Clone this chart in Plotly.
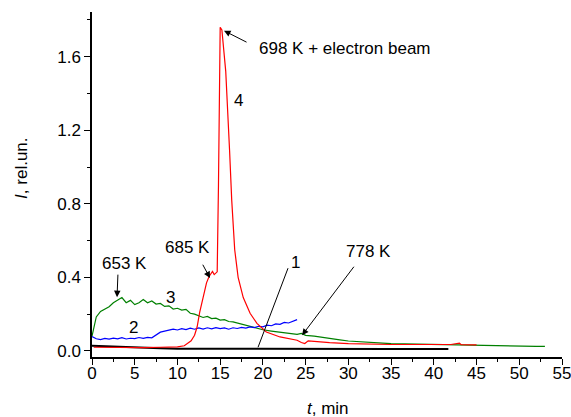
import plotly.graph_objects as go

# ---- data ----
t1 = [0, 2, 5, 8, 10, 15, 20, 25, 30, 35, 41.7]
i1 = [0.028, 0.024, 0.018, 0.014, 0.012, 0.011, 0.010, 0.010, 0.010, 0.010, 0.010]

t2 = [0, 0.5, 1, 1.5, 2, 2.5, 3, 3.5, 4, 4.5, 5, 5.5, 6, 6.5, 7, 7.5, 8, 8.5, 9, 9.5,
      10, 10.5, 11, 11.5, 12, 12.5, 13, 13.5, 14, 14.5, 15, 15.5, 16, 16.5, 17, 17.5,
      18, 18.5, 19, 19.5, 20, 20.5, 21, 21.5, 22, 22.5, 23, 23.5, 24]
i2 = [0.078, 0.066, 0.062, 0.068, 0.064, 0.070, 0.066, 0.072, 0.065, 0.069, 0.067, 0.073,
      0.068, 0.074, 0.071, 0.088, 0.102, 0.108, 0.112, 0.118, 0.114, 0.121, 0.116, 0.124,
      0.118, 0.125, 0.119, 0.126, 0.120, 0.127, 0.121, 0.125, 0.118, 0.126, 0.122, 0.128,
      0.124, 0.131, 0.127, 0.134, 0.131, 0.140, 0.137, 0.147, 0.145, 0.155, 0.152, 0.163, 0.170]

t3 = [0, 0.25, 0.5, 1, 1.5, 2, 2.5, 3, 3.5, 4, 4.5, 5, 5.5, 6, 6.5, 7, 7.5, 8, 8.5, 9,
      9.5, 10, 10.5, 11, 11.5, 12, 12.5, 13, 13.5, 14, 14.5, 15, 15.5, 16, 16.5, 17, 17.5,
      18, 18.5, 19, 19.5, 20, 21, 22, 23, 24, 24.5, 25, 26, 27, 28, 29, 30, 31, 32, 33, 34,
      35, 36, 37, 38, 39, 40, 41, 42, 43, 44, 45, 46, 47, 48, 49, 50, 51, 52, 53]
i3 = [0.080, 0.140, 0.185, 0.215, 0.228, 0.240, 0.262, 0.275, 0.290, 0.262, 0.275, 0.252,
      0.262, 0.280, 0.262, 0.272, 0.255, 0.258, 0.242, 0.245, 0.228, 0.232, 0.222, 0.226,
      0.205, 0.200, 0.190, 0.182, 0.188, 0.176, 0.178, 0.168, 0.170, 0.160, 0.158, 0.152,
      0.148, 0.140, 0.135, 0.128, 0.122, 0.115, 0.108, 0.102, 0.095, 0.090, 0.095, 0.085,
      0.080, 0.072, 0.066, 0.060, 0.054, 0.050, 0.047, 0.044, 0.042, 0.040, 0.039, 0.037,
      0.036, 0.034, 0.033, 0.032, 0.031, 0.030, 0.030, 0.029, 0.028, 0.028, 0.027, 0.027,
      0.026, 0.026, 0.025, 0.025]

t4 = [0.2, 2, 4, 6, 8, 10, 10.8, 11.2, 11.6, 12.0, 12.3, 12.6, 13.0, 13.4, 13.7, 13.9,
      14.1, 14.3, 14.5, 14.65, 14.8, 14.9, 15.0, 15.2, 15.55, 15.65, 16.1, 16.35, 16.7,
      17.1, 17.7, 18.5, 19.3, 20.4, 22, 24, 24.5, 24.9, 25.3, 26, 27.8, 30, 32, 35, 38,
      40, 42, 43, 43.2, 45]
i4 = [0.020, 0.019, 0.020, 0.018, 0.020, 0.022, 0.028, 0.040, 0.055, 0.085, 0.130, 0.210,
      0.290, 0.370, 0.405, 0.420, 0.432, 0.415, 0.425, 0.430, 0.900, 1.600, 1.760, 1.745,
      1.545, 1.520, 1.090, 0.820, 0.550, 0.400, 0.290, 0.205, 0.150, 0.103, 0.076, 0.058,
      0.046, 0.040, 0.055, 0.052, 0.045, 0.040, 0.037, 0.035, 0.035, 0.036, 0.035, 0.042,
      0.034, 0.033]

FONT = "Liberation Sans, Arial, sans-serif"
FS = 17

fig = go.Figure()
fig.add_trace(go.Scatter(x=t1, y=i1, mode="lines", line=dict(color="black", width=2)))
fig.add_trace(go.Scatter(x=t3, y=i3, mode="lines", line=dict(color="#008000", width=1.2)))
fig.add_trace(go.Scatter(x=t2, y=i2, mode="lines", line=dict(color="#0000FF", width=1.2)))
fig.add_trace(go.Scatter(x=t4, y=i4, mode="lines", line=dict(color="#FF0000", width=1.2)))

# text labels
texts = [
    ("698 K + electron beam", 19.3, 1.647, "left"),
    ("653 K", 3.75, 0.476, "center"),
    ("685 K", 11.23, 0.564, "center"),
    ("778 K", 32.3, 0.539, "center"),
    ("1", 23.76, 0.483, "center"),
    ("2", 4.8, 0.129, "center"),
    ("3", 9.13, 0.292, "center"),
    ("4", 17.2, 1.364, "center"),
]
for txt, x, y, anc in texts:
    fig.add_annotation(x=x, y=y, text=txt, showarrow=False, xanchor=anc, yanchor="middle",
                       font=dict(size=FS, color="black", family=FONT))

# arrows: (tail_x, tail_y, head_x, head_y)
arrows = [
    (18.26, 1.675, 15.45, 1.741),
    (3.04, 0.423, 2.93, 0.292),
    (12.87, 0.477, 13.81, 0.396),
    (30.78, 0.466, 24.58, 0.085),
]
for ax, ay, x, y in arrows:
    fig.add_annotation(x=x, y=y, ax=ax, ay=ay, axref="x", ayref="y", xref="x", yref="y",
                       text="", showarrow=True, arrowhead=2, arrowsize=1.3, arrowwidth=1,
                       arrowcolor="black")

fig.add_shape(type="line", x0=22.94, y0=0.45, x1=19.43, y1=0.02, xref="x", yref="y",
              line=dict(color="black", width=1))

# axis titles
fig.add_annotation(xref="paper", yref="paper", x=0.502, y=-0.148, text="<i>t</i>, min",
                   xanchor="center", yanchor="middle",
                   showarrow=False, font=dict(size=FS, color="black", family=FONT))
fig.add_annotation(xref="paper", yref="paper", x=-0.149, y=0.548, text="<i>I</i>, rel.un.",
                   xanchor="center", yanchor="middle",
                   showarrow=False, textangle=-90, font=dict(size=FS, color="black", family=FONT))

fig.update_layout(
    width=571, height=417,
    margin=dict(l=92, r=9, t=12, b=60, autoexpand=False),
    plot_bgcolor="white", paper_bgcolor="white",
    showlegend=False,
    font=dict(family=FONT, size=FS, color="black"),
)
fig.update_xaxes(range=[0, 55], tick0=0, dtick=5, showgrid=False, zeroline=False,
                 showline=True, linecolor="black", linewidth=1.5, automargin=False,
                 ticks="outside", ticklen=6, tickwidth=1.2, tickcolor="black",
                 ticklabeloverflow="allow", ticklabelstandoff=-6,
                 minor=dict(dtick=2.5, ticks="outside", ticklen=3, tickcolor="black", showgrid=False),
                 tickfont=dict(size=FS))
fig.update_yaxes(range=[-0.033, 1.843], tick0=0, dtick=0.4, tickformat=".1f", showgrid=False,
                 zeroline=False, showline=True, linecolor="black", linewidth=1.5, automargin=False,
                 ticks="outside", ticklen=6, tickwidth=1.2, tickcolor="black",
                 minor=dict(dtick=0.2, ticks="outside", ticklen=3, tickcolor="black", showgrid=False),
                 tickfont=dict(size=FS))

# remove the default 8px page margin so the figure fills the window
fig.write_html("out.html", config={"displayModeBar": False},
               post_script="document.body.style.margin='0';")
